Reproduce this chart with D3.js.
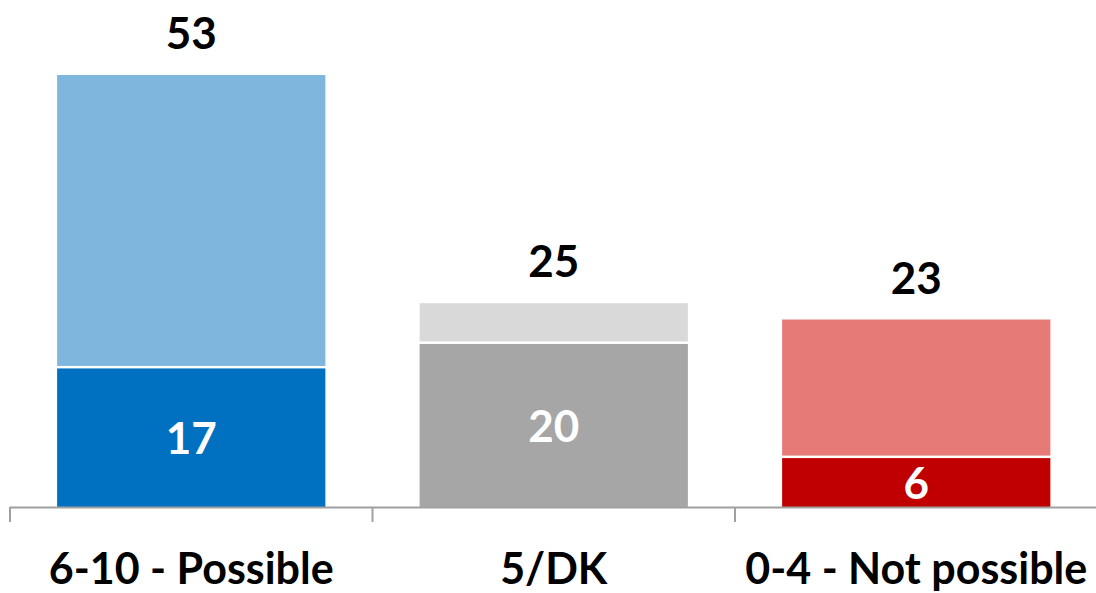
<!DOCTYPE html>
<html>
<head>
<meta charset="utf-8">
<script src="https://cdn.jsdelivr.net/npm/d3@7"></script>
<style>
  html, body { margin: 0; padding: 0; background: #fff; }
  svg { display: block; }
  text { font-family: Lato, "Open Sans", sans-serif; font-weight: 700; }
</style>
</head>
<body>
<svg id="chart" width="1096" height="593"></svg>
<script>
// Categories and stacked values (strong share at the bottom, total above)
const categories = ["6-10 - Possible", "5/DK", "0-4 - Not possible"];
const strongValues = [17, 20, 6];
const totalValues = [53, 25, 23];
const strongColors = ["#0070C0", "#A6A6A6", "#C00000"];
const softColors = ["#7FB6DE", "#D9D9D9", "#E57A77"];

const svg = d3.select("#chart");
const baseY = 507;

const x = d3.scaleBand()
  .domain(categories)
  .range([10, 1097.5])
  .paddingInner(0.26)
  .paddingOuter(0.13);

const y = d3.scaleLinear()
  .domain([0, d3.max(totalValues)])
  .range([baseY, 75]);

const gap = 2.5;
const rows = categories.map((c, i) => ({
  cat: c, strong: strongValues[i], total: totalValues[i],
  strongColor: strongColors[i], softColor: softColors[i]
}));

const g = svg.append("g");

// upper (soft) segment
g.selectAll("rect.soft").data(rows).join("rect")
  .attr("class", "soft")
  .attr("x", d => x(d.cat))
  .attr("width", x.bandwidth())
  .attr("y", d => y(d.total))
  .attr("height", d => Math.max(0, y(d.strong) - y(d.total) - gap))
  .attr("fill", d => d.softColor);

// lower (strong) segment
g.selectAll("rect.strong").data(rows).join("rect")
  .attr("class", "strong")
  .attr("x", d => x(d.cat))
  .attr("width", x.bandwidth())
  .attr("y", d => y(d.strong))
  .attr("height", d => y(0) - y(d.strong))
  .attr("fill", d => d.strongColor);

// value inside the lower segment
g.selectAll("text.inner").data(rows).join("text")
  .attr("class", "inner")
  .attr("x", d => x(d.cat) + x.bandwidth() / 2)
  .attr("y", d => (y(d.strong) + y(0)) / 2)
  .attr("dy", "0.38em")
  .attr("text-anchor", "middle")
  .attr("fill", "#fff")
  .attr("font-size", 44)
  .text(d => d.strong);

// total above the bar
g.selectAll("text.total").data(rows).join("text")
  .attr("class", "total")
  .attr("x", d => x(d.cat) + x.bandwidth() / 2)
  .attr("y", d => y(d.total) - 26)
  .attr("text-anchor", "middle")
  .attr("fill", "#000")
  .attr("font-size", 44)
  .text(d => d.total);

// category axis: baseline, boundary ticks and labels
const axis = svg.append("g");
axis.append("line")
  .attr("x1", x.range()[0]).attr("x2", 1096)
  .attr("y1", baseY + 0.5).attr("y2", baseY + 0.5)
  .attr("stroke", "#A0A0A0").attr("stroke-width", 2);

const half = x.step() * x.paddingInner() / 2;
const bounds = categories.map(c => x(c) - half);
axis.selectAll("line.tick").data(bounds).join("line")
  .attr("class", "tick")
  .attr("x1", d => d).attr("x2", d => d)
  .attr("y1", baseY).attr("y2", baseY + 15)
  .attr("stroke", "#A0A0A0").attr("stroke-width", 2);

axis.selectAll("text.cat").data(categories).join("text")
  .attr("class", "cat")
  .attr("x", d => x(d) + x.bandwidth() / 2)
  .attr("y", 584)
  .attr("text-anchor", "middle")
  .attr("fill", "#000")
  .attr("font-size", 43)
  .text(d => d);
</script>
</body>
</html>
